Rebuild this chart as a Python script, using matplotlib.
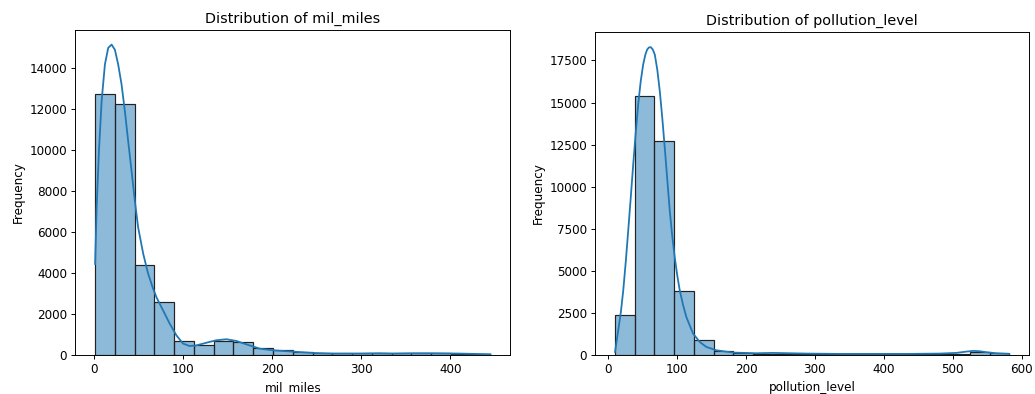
import numpy as np
import matplotlib
matplotlib.use("Agg")
import matplotlib.pyplot as plt

# ---- data: mil_miles ----
mil_min, mil_max = 1.0, 445.0
mil_counts = [12750, 12270, 4380, 2550, 680, 470, 680, 620, 340, 220,
              150, 80, 60, 60, 70, 60, 60, 60, 50, 20]
mil_kde_x = [1, 2.7, 5.3, 8.3, 12, 15.7, 19.5, 23.2, 26.9, 30.7, 34.4, 38.1,
             41.9, 45.6, 49.3, 55, 60.5, 65.5, 69.8, 77.3, 84.8, 92.3, 99.7, 107,
             114.7, 126, 137, 148.5, 159.7, 170.9, 185.9, 200.8, 223, 245.6, 268,
             298, 320, 335, 357.6, 380, 410, 445]
mil_kde_y = [4430, 7190, 9950, 12390, 14180, 14990, 15150, 14900, 14180, 13200,
             11900, 10440, 8980, 7520, 6220, 4930, 3960, 3300, 2810, 2160, 1510,
             940, 540, 420, 450, 580, 700, 750, 665, 500, 290, 210, 146, 80, 50,
             50, 65, 50, 65, 65, 50, 16]

# ---- data: pollution_level ----
pol_min, pol_max = 10.0, 582.0
pol_counts = [2370, 15360, 12690, 3760, 850, 190, 70, 40, 40, 30,
              25, 20, 20, 20, 15, 15, 15, 20, 140, 80]
pol_kde_x = [10, 14.6, 18.5, 21.9, 25.5, 29.1, 32.8, 36.4, 40, 43.6, 47.2, 50.8,
             54, 56.6, 59.3, 61.9, 64.8, 67.7, 71.3, 74.9, 78.5, 82.1, 85.8, 89.4,
             93, 96.6, 100.3, 103.9, 108.7, 113.5, 123.2, 132.9, 142.5, 157, 181.2,
             215, 239, 287.6, 336, 384.5, 433, 481, 505, 520, 530, 539, 549, 563,
             582]
pol_kde_y = [160, 1440, 2550, 3820, 5500, 7370, 9350, 11330, 13200, 14890, 16250,
             17260, 17850, 18150, 18280, 18290, 18150, 17850, 16950, 15680, 14100,
             12320, 10400, 8560, 7050, 5790, 4700, 3820, 2950, 2230, 1250, 750, 455,
             257, 120, 80, 100, 60, 40, 40, 40, 60, 100, 180, 220, 200, 140, 80, 40]

DPI = 86
fig = plt.figure(figsize=(1035 / DPI, 394 / DPI), dpi=DPI)
ax1 = fig.add_axes([0.0728, 0.1, 0.4202, 0.824])
ax2 = fig.add_axes([0.5752, 0.1, 0.4190, 0.819])

C0 = "#1f77b4"

def draw(ax, vmin, vmax, counts, kx, ky, name):
    edges = np.linspace(vmin, vmax, len(counts) + 1)
    ax.bar(edges[:-1], counts, width=np.diff(edges), align="edge",
           facecolor=(0.1216, 0.4667, 0.7059, 0.5), edgecolor="#222222",
           linewidth=1.0)
    ax.plot(kx, ky, color=C0, linewidth=1.5, solid_joinstyle="round")
    ax.set_title(f"Distribution of {name}")
    ax.set_xlabel(name)
    ax.set_ylabel("Frequency")
    ax.margins(x=0.05, y=0.05)

draw(ax1, mil_min, mil_max, mil_counts, mil_kde_x, mil_kde_y, "mil_miles")
draw(ax2, pol_min, pol_max, pol_counts, pol_kde_x, pol_kde_y, "pollution_level")
ax1.set_ylim(0, 15866)
ax2.set_ylim(0, 19200)

fig.savefig("out.png", dpi=DPI)
